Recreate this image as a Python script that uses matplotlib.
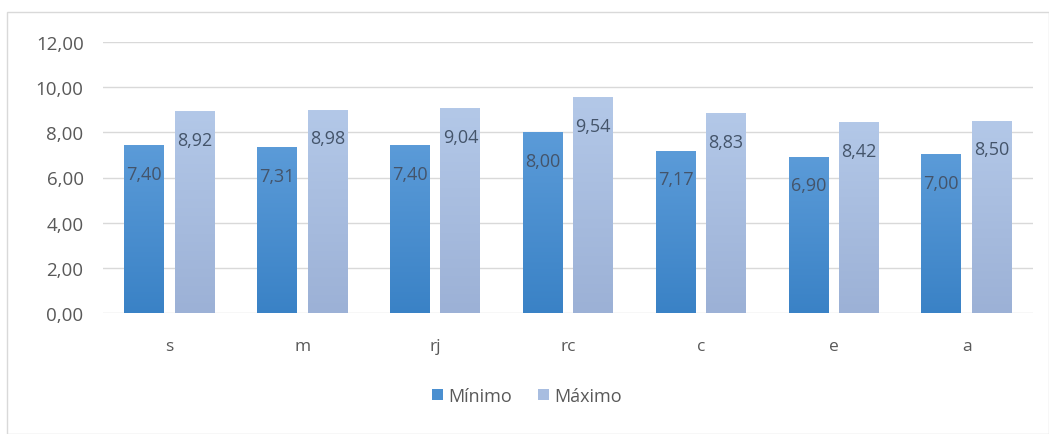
import numpy as np
import matplotlib
matplotlib.use("Agg")
import matplotlib.pyplot as plt
from matplotlib.patches import Rectangle, Patch

plt.rcParams['font.family'] = ['Open Sans', 'DejaVu Sans']

# datos
categorias = ["s", "m", "rj", "rc", "c", "e", "a"]
minimo = [7.40, 7.31, 7.40, 8.00, 7.17, 6.90, 7.00]
maximo = [8.92, 8.98, 9.04, 9.54, 8.83, 8.42, 8.50]
y_ticks = [0, 2, 4, 6, 8, 10, 12]

W, H = 1049, 435
fig = plt.figure(figsize=(W / 100, H / 100), dpi=100)
fig.patch.set_facecolor("white")

# marco exterior
fig.add_artist(Rectangle((7 / W, 0.5 / H), (W - 7) / W, (H - 13.5) / H,
                         transform=fig.transFigure, fill=False,
                         edgecolor="#d9d9d9", linewidth=1))

ax = fig.add_axes([103 / W, 1 - 314 / H, (1033 - 103) / W, (314 - 43) / H])
ax.set_xlim(-0.5, len(categorias) - 0.5)
ax.set_ylim(0, 12)

for s in ax.spines.values():
    s.set_visible(False)
ax.yaxis.grid(True, color="#d9d9d9", linewidth=1)
ax.set_axisbelow(True)
ax.tick_params(length=0, colors="#595959")
ax.set_yticks(y_ticks)
ax.set_yticklabels([f"{v:.2f}".replace(".", ",") for v in y_ticks])
ax.tick_params(axis="y", pad=14, labelsize=13.5)
ax.tick_params(axis="x", pad=18, labelsize=12.5)
ax.set_xticks(range(len(categorias)))
ax.set_xticklabels(categorias)

ancho = 0.30
sep = 0.19

def barras_gradiente(xs, vals, c_top, c_bot):
    grad = np.linspace(0, 1, 100).reshape(100, 1, 1)
    top = np.array(matplotlib.colors.to_rgb(c_top))
    bot = np.array(matplotlib.colors.to_rgb(c_bot))
    img = bot + (top - bot) * grad
    img = np.repeat(img, 2, axis=1)
    bars = ax.bar(xs, vals, width=ancho, color="none", edgecolor="none", zorder=3)
    for b in bars:
        x0, w, h = b.get_x(), b.get_width(), b.get_height()
        ax.imshow(img, extent=[x0, x0 + w, 0, h], origin="lower",
                  aspect="auto", zorder=3)
    ax.set_xlim(-0.5, len(categorias) - 0.5)
    ax.set_ylim(0, 12)
    return bars

x = np.arange(len(categorias))
barras_gradiente(x - sep, minimo, "#5b9bd8", "#3a82c6")
barras_gradiente(x + sep, maximo, "#b3c8e8", "#9cb1d6")

for xi, v in zip(x - sep, minimo):
    ax.text(xi, v - 1.25, f"{v:.2f}".replace(".", ","), ha="center", va="center",
            fontsize=13, color="#44546a", zorder=5)
for xi, v in zip(x + sep, maximo):
    ax.text(xi, v - 1.25, f"{v:.2f}".replace(".", ","), ha="center", va="center",
            fontsize=13, color="#44546a", zorder=5)

handles = [Patch(facecolor="#4a8fd0", label="Mínimo"),
           Patch(facecolor="#a8bde0", label="Máximo")]
fig.legend(handles=handles, loc="center", bbox_to_anchor=(527 / W, 1 - 397 / H),
           ncol=2, frameon=False, fontsize=13, handlelength=0.6, handleheight=0.6,
           handletextpad=0.3, columnspacing=1.4, labelcolor="#595959")

fig.savefig("out.png", dpi=100, facecolor="white")
